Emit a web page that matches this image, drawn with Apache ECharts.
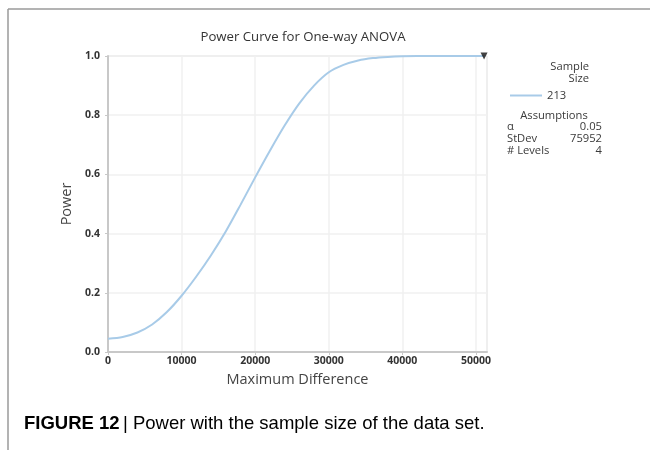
<!DOCTYPE html>
<html>
<head>
<meta charset="utf-8">
<script src="https://cdn.jsdelivr.net/npm/echarts@6/dist/echarts.min.js"></script>
<style>
html,body{margin:0;padding:0;background:#fff;}
#main{width:650px;height:450px;}
</style>
</head>
<body>
<div id="main"></div>
<script>
// Data
var maxDiff = [0, 2000, 4000, 6000, 8000, 10000, 12000, 14000, 16000, 18000, 20000, 22000, 24000, 26000, 28000, 30000, 32000, 34000, 36000, 38000, 40000, 44000, 48000, 51100];
var power   = [0.045, 0.051, 0.066, 0.093, 0.135, 0.19, 0.255, 0.327, 0.407, 0.497, 0.59, 0.68, 0.765, 0.84, 0.9, 0.945, 0.97, 0.985, 0.993, 0.997, 0.999, 1.0, 1.0, 1.0];
var markerX = [51100];
var markerY = [1.0];
var xTicks = [0, 10000, 20000, 30000, 40000, 50000];
var yTicks = [0.0, 0.2, 0.4, 0.6, 0.8, 1.0];
var sampleSize = '213';
var assumptionLabels = ['\u03b1', 'StDev', '# Levels'];
var assumptionValues = ['0.05', '75952', '4'];

var chart = echarts.init(document.getElementById('main'), null, {renderer: 'canvas'});

var font = 'Open Sans';
var textCol = '#3a3a3a';
var lf = '11.2px "' + font + '"';

var lineData = maxDiff.map(function (x, i) { return [x, power[i]]; });
var markData = markerX.map(function (x, i) { return [x, markerY[i]]; });

var graphics = [
  {type: 'line', shape: {x1: 8, y1: 9, x2: 650, y2: 9}, style: {stroke: '#9a9a9a', lineWidth: 1.5}, silent: true},
  {type: 'line', shape: {x1: 8, y1: 9, x2: 8, y2: 450}, style: {stroke: '#9a9a9a', lineWidth: 1.5}, silent: true},
  {type: 'text', x: 589, y: 67, style: {text: 'Sample', font: lf, fill: textCol, textAlign: 'right', textVerticalAlign: 'middle'}},
  {type: 'text', x: 589, y: 79, style: {text: 'Size', font: lf, fill: textCol, textAlign: 'right', textVerticalAlign: 'middle'}},
  {type: 'text', x: 554, y: 116, style: {text: 'Assumptions', font: lf, fill: textCol, textAlign: 'center', textVerticalAlign: 'middle'}},
  {type: 'text', x: 24, y: 424, style: {rich: {b: {fontFamily: 'Liberation Sans', fontWeight: 'bold', fontSize: 18.5, color: '#111'}, n: {fontFamily: 'Liberation Sans', fontSize: 18.5, color: '#111'}}, text: '{b|FIGURE 12} {n|| Power with the sample size of the data set.}', textVerticalAlign: 'middle'}}
];
var rowY = [127, 139, 151];
for (var i = 0; i < assumptionLabels.length; i++) {
  graphics.push({type: 'text', x: 507, y: rowY[i], style: {text: assumptionLabels[i], font: lf, fill: textCol, textAlign: 'left', textVerticalAlign: 'middle'}});
  graphics.push({type: 'text', x: 602, y: rowY[i], style: {text: assumptionValues[i], font: lf, fill: textCol, textAlign: 'right', textVerticalAlign: 'middle'}});
}

var option = {
  backgroundColor: '#fff',
  animation: false,
  title: {
    text: 'Power Curve for One-way ANOVA',
    left: 298, top: 26, textAlign: 'center',
    textStyle: {fontFamily: font, fontSize: 13.2, fontWeight: 'normal', color: '#333'}
  },
  legend: {
    left: 505, top: 85,
    data: [{name: sampleSize}],
    icon: 'rect', itemWidth: 32, itemHeight: 2,
    itemGap: 0,
    textStyle: {fontFamily: font, fontSize: 11.2, color: textCol, width: 59, align: 'right', padding: [0, 0, 0, 0]},
    selectedMode: false
  },
  grid: {left: 108, right: 163, top: 56, bottom: 98, show: true, borderColor: '#d4d4d4', borderWidth: 1},
  xAxis: {
    type: 'value', min: 0, max: 51500, interval: 10000,
    name: 'Maximum Difference', nameLocation: 'middle', nameGap: 20,
    nameTextStyle: {fontFamily: font, fontSize: 14.5, color: '#444'},
    axisLine: {show: true, lineStyle: {color: '#c8c8c8', width: 2}},
    axisTick: {show: true, length: 3, lineStyle: {color: '#c8c8c8'}},
    axisLabel: {fontFamily: font, fontSize: 10.5, fontWeight: 'bold', color: '#333', margin: 4,
      showMaxLabel: false,
      formatter: function (v) { return xTicks.indexOf(v) >= 0 ? String(v) : ''; }},
    splitLine: {show: true, lineStyle: {color: '#f0f0f0', width: 1.5}}
  },
  yAxis: {
    type: 'value', min: 0, max: 1, interval: 0.2,
    name: 'Power', nameLocation: 'middle', nameGap: 32, nameRotate: 90,
    nameTextStyle: {fontFamily: font, fontSize: 14.5, color: '#444'},
    axisLine: {show: true, lineStyle: {color: '#c8c8c8', width: 2}},
    axisTick: {show: true, length: 3, lineStyle: {color: '#c8c8c8'}},
    axisLabel: {fontFamily: font, fontSize: 10.5, fontWeight: 'bold', color: '#333', margin: 8,
      formatter: function (v) { return yTicks.indexOf(Math.round(v * 10) / 10) >= 0 ? v.toFixed(1) : ''; }},
    splitLine: {show: true, lineStyle: {color: '#f0f0f0', width: 1.5}}
  },
  series: [
    {
      name: sampleSize, type: 'line', data: lineData, smooth: 0.3, showSymbol: false,
      lineStyle: {color: '#a8cbe8', width: 2}, itemStyle: {color: '#a8cbe8'}, z: 3
    },
    {
      name: 'current', type: 'scatter', data: markData, symbol: 'triangle', symbolRotate: 180,
      symbolSize: 7, itemStyle: {color: '#111'}, clip: false, z: 4
    }
  ],
  graphic: graphics
};
chart.setOption(option);
</script>
</body>
</html>
